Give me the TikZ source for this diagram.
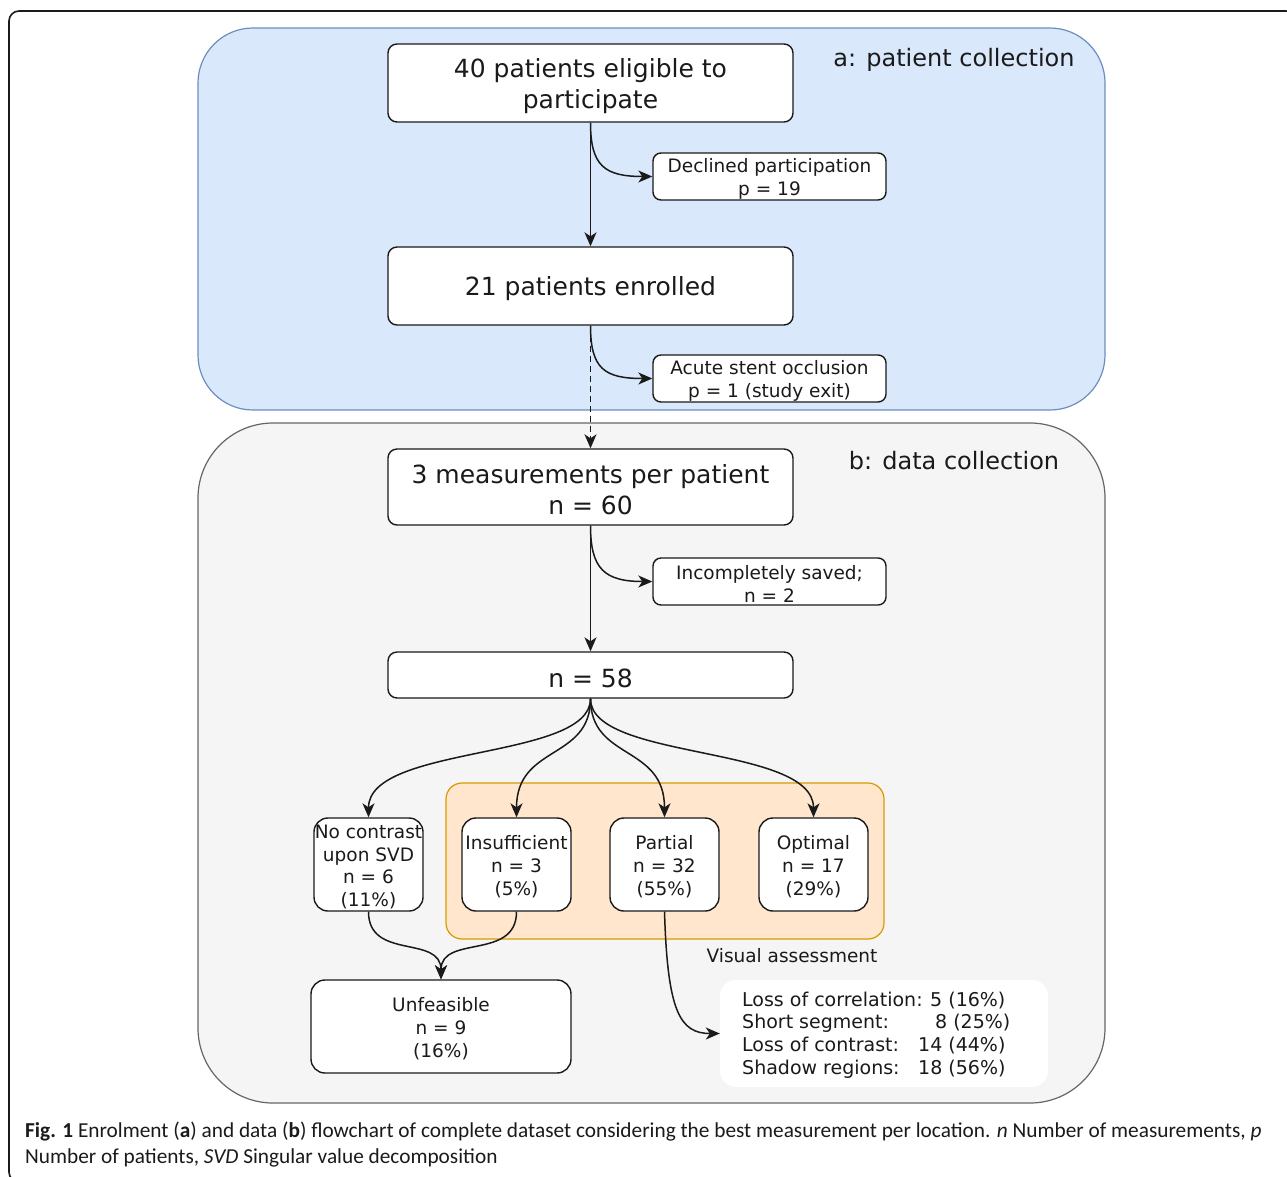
\documentclass[tikz,border=0pt]{standalone}
\usepackage{fontspec}
\setmainfont{DejaVu Sans}
\newfontfamily\capfont{Carlito}
\usetikzlibrary{arrows.meta,calc}
\definecolor{bluefill}{HTML}{DAE8FC}
\definecolor{blueline}{HTML}{6C8EBF}
\definecolor{grayfill}{HTML}{F5F5F5}
\definecolor{grayline}{HTML}{666666}
\definecolor{orangefill}{HTML}{FFE6CC}
\definecolor{orangeline}{HTML}{D79B00}
\definecolor{ink}{HTML}{1A1A1A}
\newcommand\lup{\rule{0pt}{1em}}
\begin{document}
\begin{tikzpicture}[x=1pt,y=-1pt,
  box/.style={draw=ink, line width=1.4pt, fill=white, rounded corners=9pt, align=center, inner sep=0pt, text=ink},
  big/.style={box, font=\fontsize{25}{31}\selectfont, minimum width=405pt},
  sm/.style={box, font=\fontsize{18.5}{22.7}\selectfont},
  side/.style={sm, minimum width=233pt, minimum height=47pt, rounded corners=8pt},
  cat/.style={sm, minimum width=109pt, minimum height=93pt, rounded corners=14pt},
  arr/.style={line width=1.5pt, draw=ink, -{Stealth[length=14pt,width=12pt,inset=4pt]}},
  paneltitle/.style={font=\fontsize{24}{29}\selectfont, text=ink, inner sep=0pt},
  captext/.style={anchor=base west, inner sep=0pt, text=ink, font=\capfont\fontsize{21.3}{25}\selectfont},
]
\path[use as bounding box] (0,0) rectangle (1287,1176);
% outer frame
\draw[line width=1.6pt, draw=ink, rounded corners=10pt] (9,11) rectangle (1296,1182);
% panels
\draw[draw=blueline, fill=bluefill, line width=1.2pt, rounded corners=55pt] (198,28) rectangle (1105,410);
\draw[draw=grayline, fill=grayfill, line width=1.2pt, rounded corners=75pt] (198,423) rectangle (1105,1103);
\draw[draw=orangeline, fill=orangefill, line width=1.2pt, rounded corners=16pt] (446,783) rectangle (884,939);

\node[paneltitle] (la) at (954,60) {a: patient collection};
\node[paneltitle] (lb) at (954,461) {b: data collection};

% boxes
\node[big, minimum height=78pt] (b1) at (590.5,83) {\lup 40 patients eligible to\\participate};
\node[side] (dec) at (769.5,176.5) {\lup Declined participation\\p = 19};
\node[big, minimum height=78pt] (b2) at (590.5,286) {\lup 21 patients enrolled};
\node[side] (acu) at (769.5,378.5) {\lup Acute stent occlusion\\p = 1 (study exit)};
\node[big, minimum height=76pt] (b3) at (590.5,487) {\lup 3 measurements per patient\\n = 60};
\node[side] (inc) at (769.5,581.5) {\lup Incompletely saved;\\n = 2};
\node[big, minimum height=46pt] (b4) at (590.5,675) {\lup n = 58};

\node[cat] (nc) at (368.5,864.5) {\lup No contrast\\upon SVD\\n = 6\\(11\%)};
\node[cat] (ins) at (516.5,864.5) {\lup Insufficient\\n = 3\\(5\%)};
\node[cat] (par) at (664.5,864.5) {\lup Partial\\n = 32\\(55\%)};
\node[cat] (opt) at (813.5,864.5) {\lup Optimal\\n = 17\\(29\%)};
\node[font=\fontsize{18.5}{22.7}\selectfont, text=ink, inner sep=0pt] (va) at (792,956) {Visual assessment};

\node[cat, minimum width=260pt, minimum height=93pt] (unf) at (441,1026.5) {\lup Unfeasible\\n = 9\\(16\%)};

\node[fill=white, rounded corners=16pt, minimum width=328pt, minimum height=107pt, inner sep=0pt] (loss) at (884,1033.5) {};
\node[anchor=west, align=left, inner sep=0pt, text=ink, font=\fontsize{19}{22.7}\selectfont] (losstext) at (742,1035)
 {\makebox[188pt][l]{Loss of correlation:}5 (16\%)\\
  \makebox[193pt][l]{Short segment:}8 (25\%)\\
  \makebox[176pt][l]{Loss of contrast:}14 (44\%)\\
  \makebox[176pt][l]{Shadow regions:}18 (56\%)};

% connectors
\draw[arr] (b1.south) -- (b2.north);
\draw[arr] (b1.south) .. controls ($(b1.south)+(0,43)$) and ($(dec.west)+(-48,0)$) .. (dec.west);
\draw[arr, dash pattern=on 6pt off 4pt] (b2.south) -- (b3.north);
\draw[arr] (b2.south) .. controls ($(b2.south)+(0,43)$) and ($(acu.west)+(-48,0)$) .. (acu.west);
\draw[arr] (b3.south) -- (b4.north);
\draw[arr] (b3.south) .. controls ($(b3.south)+(0,43)$) and ($(inc.west)+(-48,0)$) .. (inc.west);

\draw[arr] (b4.south) .. controls ($(b4.south)+(0,62)$) and ($(nc.north)+(0,-73)$) .. (nc.north);
\draw[arr] (b4.south) .. controls ($(b4.south)+(0,62)$) and ($(ins.north)+(0,-73)$) .. (ins.north);
\draw[arr] (b4.south) .. controls ($(b4.south)+(0,62)$) and ($(par.north)+(0,-73)$) .. (par.north);
\draw[arr] (b4.south) .. controls ($(b4.south)+(0,62)$) and ($(opt.north)+(0,-73)$) .. (opt.north);

\draw[arr] (nc.south) .. controls ($(nc.south)+(0,49)$) and ($(unf.north)+(0,-45)$) .. (unf.north);
\draw[arr] (ins.south) .. controls ($(ins.south)+(0,49)$) and ($(unf.north)+(0,-45)$) .. (unf.north);
\draw[arr] (par.south) .. controls ($(par.south)+(3,100)$) and ($(loss.west)+(-40,0)$) .. (loss.west);

% caption
\node[captext] (cap1) at (25,1137) {\textbf{Fig. 1} Enrolment (\textbf{a}) and data (\textbf{b}) flowchart of complete dataset considering the best measurement per location. \textit{n} Number of measurements, \textit{p}};
\node[captext] (cap2) at (25,1163) {Number of patients, \textit{SVD} Singular value decomposition};
\end{tikzpicture}
\end{document}
